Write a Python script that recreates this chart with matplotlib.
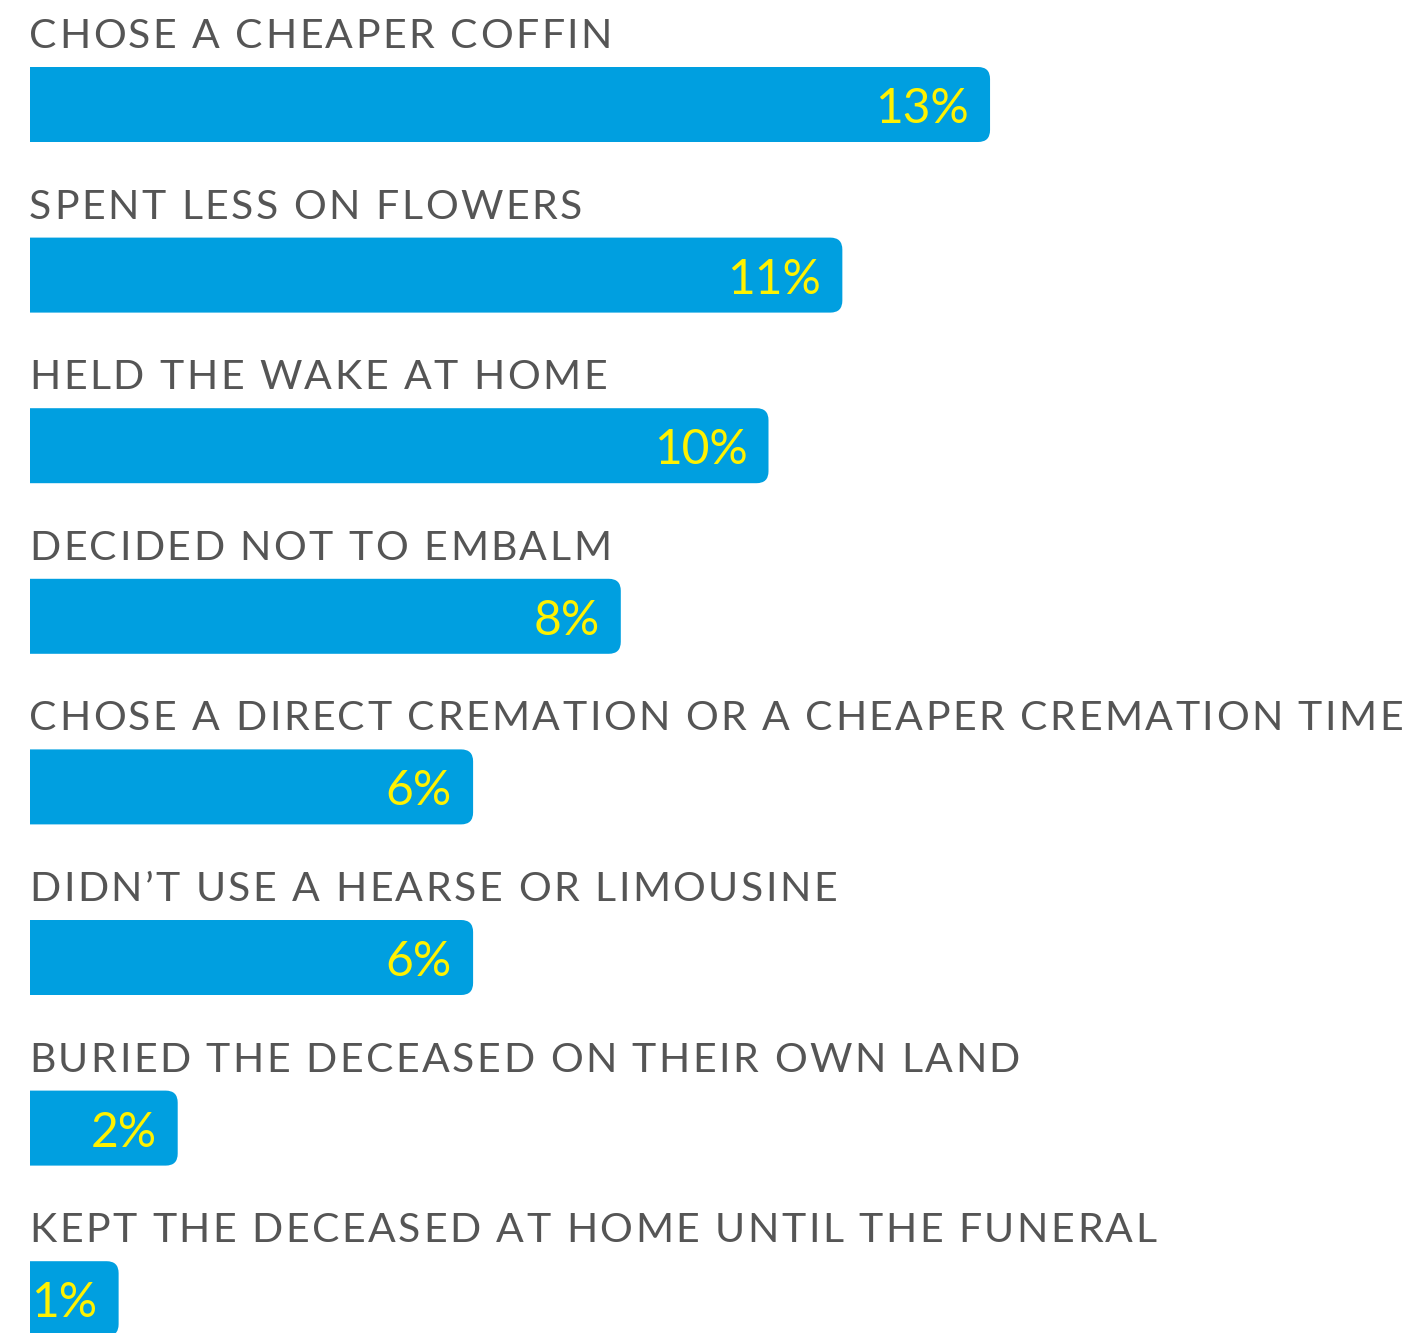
import matplotlib
matplotlib.use("Agg")
import matplotlib.pyplot as plt
from matplotlib.patches import FancyBboxPatch, Rectangle
from matplotlib.font_manager import FontProperties

categories = [
    "CHOSE A CHEAPER COFFIN",
    "SPENT LESS ON FLOWERS",
    "HELD THE WAKE AT HOME",
    "DECIDED NOT TO EMBALM",
    "CHOSE A DIRECT CREMATION OR A CHEAPER CREMATION TIME",
    "DIDN\u2019T USE A HEARSE OR LIMOUSINE",
    "BURIED THE DECEASED ON THEIR OWN LAND",
    "KEPT THE DECEASED AT HOME UNTIL THE FUNERAL",
]
values = [13, 11, 10, 8, 6, 6, 2, 1]
value_labels = ["13%", "11%", "10%", "8%", "6%", "6%", "2%", "1%"]

BLUE = "#009FE0"
YELLOW = "#FFF200"
GREY = "#555555"

W, H, DPI = 1413, 1333, 100
LEFT = 30        # px, bar start
TOP = 104.5      # px, centre of first bar
PX_X = 73.85     # px per percent
ROW = 170.6      # px per row
BAR_H = 75 / ROW
MIN_W = 1.2      # smallest drawn bar so the label fits
RADIUS = 12      # px
TRACK = 2.5      # px letter spacing for category labels

fig = plt.figure(figsize=(W / DPI, H / DPI), dpi=DPI)
fig.patch.set_facecolor("white")
ax = fig.add_axes([0, 0, 1, 1])
ax.set_xlim(-LEFT / PX_X, (W - LEFT) / PX_X)
ax.set_ylim((H - TOP) / ROW, -TOP / ROW)
ax.axis("off")

cat_font = FontProperties(family="Lato", size=29.5)
val_font = FontProperties(family="Lato", size=34.5)

fig.canvas.draw()
renderer = fig.canvas.get_renderer()


def text_w(s, fp):
    w, _, _ = renderer.get_text_width_height_descent(s, fp, ismath=False)
    return w


def spaced_text(x, y, s, fp, track_px, color):
    base = text_w("HH", fp)
    pos = 0.0
    for ch in s:
        ax.text(x + pos / PX_X, y, ch, fontproperties=fp, color=color,
                ha="left", va="baseline")
        adv = text_w("H" + ch + "H", fp) - base
        pos += adv + track_px


# clip away the rounded left corners so bars start square at 0
clip = Rectangle((0, -5), 100, 100, transform=ax.transData)
rx = RADIUS / PX_X

for i, (cat, v, lab) in enumerate(zip(categories, values, value_labels)):
    w = max(v, MIN_W)
    y0 = i - BAR_H / 2
    bar = FancyBboxPatch(
        (-2 * rx, y0), w + 2 * rx, BAR_H,
        boxstyle=f"round,pad=0,rounding_size={rx}",
        mutation_aspect=PX_X / ROW, fc=BLUE, ec="none")
    ax.add_patch(bar)
    bar.set_clip_path(clip)
    ax.text(w - 21 / PX_X, i + 18.5 / ROW, lab, fontproperties=val_font,
            color=YELLOW, ha="right", va="baseline")
    spaced_text(-1 / PX_X, i - 56.5 / ROW, cat, cat_font, TRACK, GREY)

fig.savefig("out.png", dpi=DPI, facecolor="white")
